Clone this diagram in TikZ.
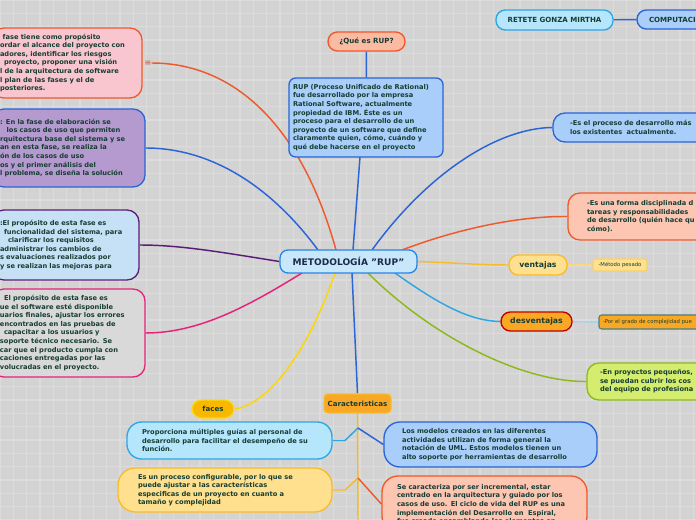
\documentclass[tikz,border=0pt]{standalone}
\usepackage{fontspec}
\setmainfont{DejaVu Sans}
\usetikzlibrary{arrows.meta,calc,positioning,backgrounds}

\definecolor{txt}{HTML}{163D33}
\definecolor{navy}{HTML}{1B2B4B}
\definecolor{bg}{HTML}{D3D3D3}
\definecolor{gridc}{HTML}{DCDCDC}
\definecolor{redline}{HTML}{EE5A2C}
\definecolor{blueline}{HTML}{2A64D6}
\definecolor{purpline}{HTML}{5B1C78}
\definecolor{magline}{HTML}{E8217A}
\definecolor{cyanline}{HTML}{2EA6E4}
\definecolor{yelline}{HTML}{F8BC2A}
\definecolor{greenline}{HTML}{8DB81E}
\definecolor{pinkfill}{HTML}{F9C6D0}
\definecolor{lilacfill}{HTML}{B59ACF}
\definecolor{icefill}{HTML}{C6E0F5}
\definecolor{greyfill}{HTML}{D9D9D9}
\definecolor{salmonfill}{HTML}{FBBAA2}
\definecolor{peachfill}{HTML}{FCC6B2}
\definecolor{skyfill}{HTML}{A9CEF9}
\definecolor{aquafill}{HTML}{B5E6FB}
\definecolor{mainfill}{HTML}{C9E7FA}
\definecolor{creamfill}{HTML}{FFE08E}
\definecolor{orangefill}{HTML}{F9A825}
\definecolor{limefill}{HTML}{D5ED6E}
\definecolor{goldfill}{HTML}{F9B800}

\newcommand{\pxu}{0.75pt}

\begin{document}
\begin{tikzpicture}[x=0.75pt, y=-0.75pt,
  card/.style={draw, line width=1pt, rounded corners=9pt, align=left, inner sep=0pt,
    text=txt, font=\fontsize{5}{6.4}\selectfont\bfseries},
  pill/.style={draw, line width=1pt, rounded corners=7pt, inner sep=0pt,
    text=txt, font=\fontsize{5.3}{6.4}\selectfont\bfseries},
  tag/.style={draw, line width=0.8pt, rounded corners=2pt, inner sep=0pt,
    text=txt, font=\fontsize{4}{5}\selectfont},
  link/.style={line width=1.1pt}]

  \useasboundingbox (0,0) rectangle (696,520);
  \clip (0,0) rectangle (696,520);
  \begin{scope}[on background layer]
    \fill[bg] (0,0) rectangle (696,520);
    \draw[gridc, line width=0.8pt, step=10pt] (0,0) grid (696,520);
  \end{scope}

  % centre
  \node[pill, fill=mainfill, draw=cyanline!80!blue, rounded corners=6pt, text=navy,
    font=\fontsize{6.8}{8}\selectfont\bfseries,
    minimum width=137*\pxu, minimum height=23*\pxu] (main) at (348.5,261.5)
    {METODOLOGÍA \symbol{"22}RUP\symbol{"22}};

  % left branches (cut by the page edge)
  \node[card, fill=pinkfill, draw=redline, minimum width=150*\pxu, minimum height=70*\pxu,
    text width=134*\pxu] (inicio) at (67,63)
    {\hspace*{2pt}fase tiene como propósito\\ordar el alcance del proyecto con\\adores, identificar los riesgos\\\hspace*{3pt}proyecto, proponer una visión\\l de la arquitectura de software\\l plan de las fases y el de\\posteriores.};
  \node[text=redline!90!black, font=\fontsize{6}{6}\selectfont, inner sep=0pt] (icon) at (148,63) {≡};
  \node[card, fill=lilacfill, draw=blueline, minimum width=153*\pxu, minimum height=78*\pxu,
    text width=137*\pxu] (elabora) at (68.5,148)
    {: En la fase de elaboración se\\\hspace*{5pt}los casos de uso que permiten\\rquitectura base del sistema y se\\an en esta fase, se realiza la\\ón de los casos de uso\\os y el primer análisis del\\l problema, se diseña la solución};
  \node[card, fill=icefill, draw=purpline, minimum width=147*\pxu, minimum height=70*\pxu,
    text width=131*\pxu] (construye) at (65.5,245)
    {:El propósito de esta fase es\\\hspace*{3pt}funcionalidad del sistema, para\\\hspace*{6pt}clarificar los requisitos\\administrar los cambios de\\s evaluaciones realizados por\\y se realizan las mejoras para};
  \node[card, fill=greyfill, draw=magline, minimum width=153*\pxu, minimum height=88*\pxu,
    text width=137*\pxu] (transita) at (68.5,333)
    {\hspace*{3pt}El propósito de esta fase es\\ue el software esté disponible\\uarios finales, ajustar los errores\\encontrados en las pruebas de\\\hspace*{3pt}capacitar a los usuarios y\\soporte técnico necesario. Se\\car que el producto cumpla con\\caciones entregadas por las\\volucradas en el proyecto.};

  % top
  \node[pill, fill=salmonfill, draw=redline, minimum width=77*\pxu, minimum height=19*\pxu]
    (quees) at (366.5,41.5) {¿Qué es RUP?};
  \node[card, fill=skyfill, draw=blueline, rounded corners=5pt, minimum width=154*\pxu,
    minimum height=79*\pxu, text width=146*\pxu] (rup) at (366,117.5)
    {RUP (Proceso Unificado de Rational)\\fue desarrollado por la empresa\\Rational Software, actualmente\\propiedad de IBM. Éste es un\\proceso para el desarrollo de un\\proyecto de un software que define\\claramente quien, cómo, cuándo y\\qué debe hacerse en el proyecto};
  \node[pill, fill=aquafill, draw=cyanline, minimum width=117*\pxu, minimum height=20*\pxu]
    (autor) at (554.5,20) {RETETE GONZA MIRTHA};
  \node[pill, fill=skyfill, draw=blueline, align=left, minimum width=83*\pxu,
    minimum height=19*\pxu, text width=59*\pxu] (curso) at (678.5,19.5) {COMPUTACI};

  % right branches
  \node[card, fill=skyfill, draw=blueline, minimum width=167*\pxu, minimum height=29*\pxu,
    text width=133*\pxu] (proceso) at (636.5,127.5)
    {-Es el proceso de desarrollo más\\los existentes\ \ actualmente.};
  \node[card, fill=peachfill, draw=redline, minimum width=172*\pxu, minimum height=47*\pxu,
    text width=134*\pxu] (forma) at (654,216.5)
    {-Es una forma disciplinada d\\tareas y responsabilidades\\de desarrollo (quién hace qu\\cómo).};
  \node[pill, fill=creamfill, draw=yelline, font=\fontsize{5.8}{7}\selectfont\bfseries,
    minimum width=58*\pxu, minimum height=20*\pxu] (ventajas) at (538,265) {ventajas};
  \node[tag, fill=creamfill, draw=yelline!70!white, minimum width=54*\pxu,
    minimum height=12*\pxu] (pesado) at (620,265) {-Método pesado};
  \node[pill, fill=orangefill, draw=red!75!black, font=\fontsize{5.8}{7}\selectfont\bfseries,
    minimum width=71*\pxu, minimum height=19*\pxu] (desventajas) at (536.5,321.5) {desventajas};
  \node[tag, fill=orangefill, draw=teal!45!gray, align=left, minimum width=141*\pxu,
    minimum height=14*\pxu, text width=133*\pxu] (grado) at (669.5,322)
    {-Por el grado de complejidad pue};
  \node[card, fill=limefill, draw=greenline, minimum width=153*\pxu, minimum height=37*\pxu,
    text width=127*\pxu] (pequenos) at (663.5,381.5)
    {-En proyectos pequeños,\\se puedan cubrir los cos\\del equipo de profesiona};

  % bottom
  \node[pill, fill=goldfill, draw=yelline!60!yellow, minimum width=42*\pxu, minimum height=18*\pxu]
    (faces) at (213,409) {faces};
  \node[pill, fill=orangefill, draw=yelline, rounded corners=3pt, minimum width=67*\pxu,
    minimum height=19*\pxu] (carac) at (357.5,403.5) {Caracteristicas};
  \node[card, fill=aquafill, draw=cyanline, rounded corners=11pt, minimum width=205*\pxu,
    minimum height=37*\pxu, text width=175*\pxu] (guias) at (229.5,440.5)
    {Proporciona múltiples guías al personal de\\desarrollo para facilitar el desempeño de su\\función.};
  \node[card, fill=creamfill, draw=yelline, rounded corners=13pt, minimum width=214*\pxu,
    minimum height=44*\pxu, text width=174*\pxu] (config) at (225,490)
    {Es un proceso configurable, por lo que se\\puede ajustar a las características\\especificas de un proyecto en cuanto a\\tamaño y complejidad};
  \node[card, fill=skyfill, draw=blueline, rounded corners=12pt, minimum width=213*\pxu,
    minimum height=45*\pxu, text width=177*\pxu] (modelos) at (490.5,444.5)
    {Los modelos creados en las diferentes\\actividades utilizan de forma general la\\notación de UML. Estos modelos tienen un\\alto soporte por herramientas de desarrollo};
  \node[card, fill=peachfill, draw=redline, rounded corners=12pt, minimum width=205*\pxu,
    minimum height=56*\pxu, text width=175*\pxu] (espiral) at (484.5,504)
    {Se caracteriza por ser incremental, estar\\centrado en la arquitectura y guiado por los\\casos de uso. El ciclo de vida del RUP es una\\implementación del Desarrollo en\ \ Espiral,\\fue creado ensamblando los elementos en};

  \coordinate (t1) at (358,428);
  \coordinate (t2) at (358,478);
  \coordinate (tend) at (358,520);

  % connectors
  \begin{scope}[on background layer]
  \draw[link, blueline] (quees) -- (rup);
  \draw[link, blueline] (353,250) -- (360,157);
  \draw[link, blueline] (autor) -- (curso);
  \draw[link, redline] (336,250) .. controls (300,120) and (230,63) .. (icon.east);
  \draw[link, blueline] (318,250) .. controls (270,185) and (210,148) .. (elabora.east);
  \draw[link, purpline] (main.west) .. controls (220,252) and (180,245) .. (construye.east);
  \draw[link, magline] (302,273) .. controls (250,305) and (200,333) .. (transita.east);
  \draw[link, blueline] (372,250) .. controls (430,170) and (500,128) .. (proceso.west);
  \draw[link, redline] (402,250) .. controls (460,228) and (520,216) .. (forma.west);
  \draw[link, yelline] (main.east) .. controls (460,263) and (480,265) .. (ventajas.west);
  \draw[link, yelline!60!white, line width=0.8pt] (ventajas) -- (pesado);
  \draw[link, cyanline] (395,273) .. controls (440,305) and (470,321) .. (desventajas.west);
  \draw[link, cyanline!50!white, line width=0.9pt] (desventajas) -- (grado.west);
  \draw[link, greenline] (368,273) .. controls (430,335) and (520,382) .. (pequenos.west);
  \draw[link, yellow!75!orange] (335,273) .. controls (305,360) and (265,405) .. (faces.east);
  \draw[link, blueline] (352,273) -- (carac.north);
  \draw[link, yelline] (carac.south) -- (tend);
  \draw[link, cyanline] (t1) -- (345,440.5) -- (guias.east);
  \draw[link, blueline] (t1) -- (modelos.west);
  \draw[link, yelline] (t2) -- (345,490) -- (config.east);
  \draw[link, redline] (t2) -- (espiral.west);
  \end{scope}
\end{tikzpicture}
\end{document}
